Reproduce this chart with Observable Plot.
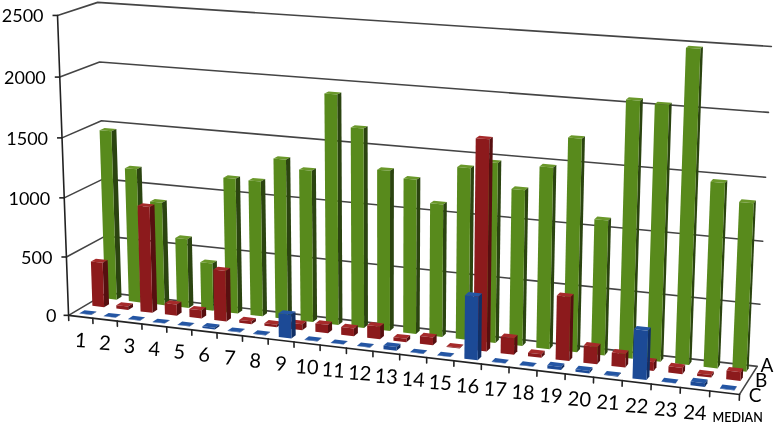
<!DOCTYPE html>
<html><head><meta charset="utf-8">
<style>html,body{margin:0;padding:0;background:#fff}svg{display:block;filter:blur(0.35px)}</style>
<script src="https://cdn.jsdelivr.net/npm/d3@7"></script>
<script src="https://cdn.jsdelivr.net/npm/@observablehq/plot@0.6"></script>
</head><body><div id="chart"></div>
<script>
const categories = ["1","2","3","4","5","6","7","8","9","10","11","12","13","14","15","16","17","18","19","20","21","22","23","24","MEDIAN"];
const seriesA = [1457,1152,886,595,408,1148,1145,1346,1274,1915,1656,1331,1278,1095,1410,1470,1272,1472,1718,1091,2049,2032,2476,1467,1330];
const seriesB = [385,30,905,95,70,430,25,22,50,70,65,105,30,65,5,1708,135,30,518,140,110,70,50,20,70];
const seriesC = [3,3,3,3,3,15,3,3,198,3,3,3,30,3,3,515,3,3,25,20,5,390,3,30,3];
const valueTicks = [0,500,1000,1500,2000,2500];
const rowNames = ["C","B","A"];
const palette = {
  A:{front:"#588a1c",side:"#2b4410",top:"#6a982a"},
  B:{front:"#8c1a1c",side:"#570f10",top:"#a62a2a"},
  C:{front:"#1c4a96",side:"#103066",top:"#2456a4"}
};
// perspective camera calibrated to the chart frame: [category, row, value, px, py]
const frame = [[0,0,0,69,314],[25,0,0,739,394],[13,0,0,399,355],[0,3,0,105.5,293],[25,3,0,757,365],
  [0,0,2500,57,15],[0,0,1000,63,197],[0,3,2500,97,2],[0,3,1000,104,178],[25,3,2500,771,46],[25,3,1000,762,241]];
function solve(A,b){const n=b.length;const M=A.map((r,i)=>[...r,b[i]]);
  for(let c=0;c<n;c++){let p=c;for(let r=c+1;r<n;r++)if(Math.abs(M[r][c])>Math.abs(M[p][c]))p=r;[M[c],M[p]]=[M[p],M[c]];
    for(let r=0;r<n;r++){if(r===c)continue;const f=M[r][c]/M[c][c];for(let k=c;k<=n;k++)M[r][k]-=f*M[c][k];}}
  return M.map((r,i)=>r[n]/r[i]);}
const norm=(u,v,h)=>[u/25,v/3,h/2500];
const cam=(()=>{const R=[],B=[];for(const [u,v,h,X,Y] of frame){const [a,b,c]=norm(u,v,h);
    R.push([a,b,c,1,0,0,0,0,-X*a,-X*b,-X*c]);B.push(X);R.push([0,0,0,0,a,b,c,1,-Y*a,-Y*b,-Y*c]);B.push(Y);}
  const N=Array.from({length:11},(_, i)=>Array.from({length:11},(_, j)=>d3.sum(R,r=>r[i]*r[j])));
  const y=Array.from({length:11},(_, i)=>d3.sum(R,(r,k)=>r[i]*B[k]));return solve(N,y);})();
function project(u,v,h){const [a,b,c]=norm(u,v,h);const w=cam[8]*a+cam[9]*b+cam[10]*c+1;
  return [(cam[0]*a+cam[1]*b+cam[2]*c+cam[3])/w,(cam[4]*a+cam[5]*b+cam[6]*c+cam[7])/w];}

const polys=[];let pid=0;
function face(points,fill){const id=pid++;for(const p of points){const [x,y]=project(...p);polys.push({id,x,y,fill});}}
function bar(i,row,val,c){const u0=i+0.27,u1=i+0.76,v0=row+0.33,v1=row+0.72;
  face([[u0,v0,val],[u1,v0,val],[u1,v1,val],[u0,v1,val]],c.top);
  face([[u1,v0,0],[u1,v1,0],[u1,v1,val],[u1,v0,val]],c.side);
  face([[u0,v0,0],[u1,v0,0],[u1,v0,val],[u0,v0,val]],c.front);}
seriesA.forEach((d,i)=>bar(i,2,d,palette.A));
seriesB.forEach((d,i)=>bar(i,1,d,palette.B));
seriesC.forEach((d,i)=>bar(i,0,d,palette.C));

const seg=[];let sid=0;
function line(pts,kind){const id=sid++;for(const p of pts){const [x,y]=project(...p);seg.push({id,x,y,kind});}}
for(const t of valueTicks) if(t>0) line([[0,0,t],[0,3,t],[25,3,t]],"grid");
line([[0,0,0],[0,3,0],[25,3,0],[25,0,0]],"grid");
line([[0,0,0],[0,0,2500]],"axis");
line([[0,0,0],[25,0,0]],"axis");
categories.concat("").forEach((_,i)=>line([[i,0,0],[i,0,-45]],"axis"));
const yTicks=valueTicks.map(t=>{const [x,y]=project(0,0,t);return {t:String(t),x,y,x0:x-5};});

const catLabels=categories.slice(0,24).map((c,i)=>{const [x,y]=project(i+0.5,0,0);return {c,x,y:y+24};});
const medLabel=(()=>{const [x,y]=project(24.5,0,0);return [{c:categories[24],x:x+13,y:y+25}];})();
const rowLabels=rowNames.map((c,r)=>{const [x,y]=project(25,r+0.5,0);return {c,x:x+12.5,y:y+0.5+(1-r)*5.5};});

const font="Lato, 'Open Sans', sans-serif";
const chart=Plot.plot({
  width:774,height:424,margin:0,
  x:{domain:[0,774],range:[0,774],axis:null},
  y:{domain:[0,424],range:[0,424],axis:null},
  marks:[
    Plot.line(seg.filter(d=>d.kind==="grid"),{x:"x",y:"y",z:"id",stroke:"#444",strokeWidth:1.6}),
    Plot.line(polys,{x:"x",y:"y",z:"id",fill:"fill",stroke:"none"}),
    Plot.line(seg.filter(d=>d.kind==="axis"),{x:"x",y:"y",z:"id",stroke:"#222",strokeWidth:1.6}),
    Plot.link(yTicks,{x1:"x0",x2:"x",y1:"y",y2:"y",stroke:"#222",strokeWidth:1.6}),
    Plot.text(yTicks,{x:d=>d.x0-9+(d.t==="0"?2:0),y:"y",text:"t",textAnchor:"end",fontSize:18,fontFamily:font,fill:"#000",dy:1}),
    Plot.text(catLabels,{x:"x",y:"y",text:"c",fontSize:20,fontFamily:font,fill:"#000",rotate:4}),
    Plot.text(medLabel,{x:"x",y:"y",text:"c",fontSize:12.5,fontWeight:600,fontFamily:font,fill:"#000"}),
    Plot.text(rowLabels,{x:"x",y:"y",text:"c",fontSize:19,fontFamily:font,fill:"#000"})
  ]
});
document.getElementById("chart").append(chart);
</script></body></html>
